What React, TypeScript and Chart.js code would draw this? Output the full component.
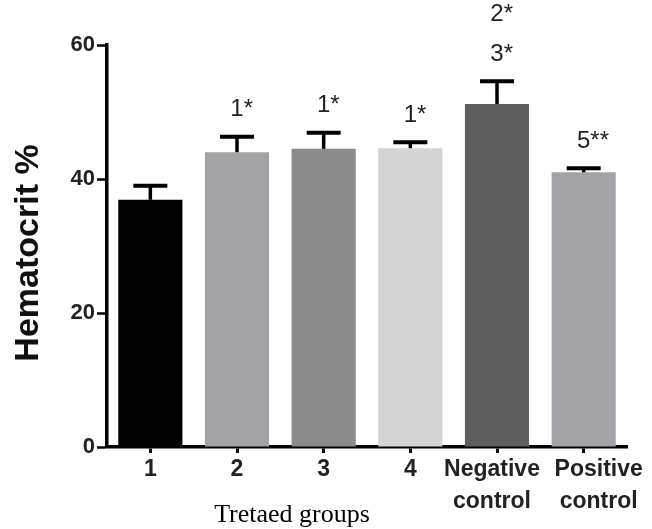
import React, { useEffect, useRef } from "react";
import { Chart, registerables } from "chart.js";

Chart.register(...registerables);

const categories: string[][] = [["1"], ["2"], ["3"], ["4"], ["Negative", "control"], ["Positive", "control"]];
const means = [36.9, 44.0, 44.5, 44.6, 51.2, 41.0];
const errors = [2.1, 2.3, 2.4, 0.9, 3.4, 0.6];
const annotations: string[][] = [[], ["1*"], ["1*"], ["1*"], ["2*", "3*"], ["5**"]];
const colors = ["#000000", "#a3a3a7", "#8b8b8b", "#d4d4d4", "#5f5f5f", "#a3a3a7"];
const labelShift = [0, 0, 0, 0, -5, 15];
const yTicks = [0, 20, 40, 60];
const yTitle = "Hematocrit %";
const xTitle = "Tretaed groups";

const SANS = "'Liberation Sans', Arial, sans-serif";
const SERIF = "'Liberation Serif', 'Times New Roman', serif";

const overlay = {
  id: "overlay",
  afterDatasetsDraw(chart: any) {
    const ctx = chart.ctx;
    const y = chart.scales.y;
    const meta = chart.getDatasetMeta(0);
    ctx.save();
    means.forEach((m, i) => {
      const bar = meta.data[i];
      const x = bar.x;
      const yBar = y.getPixelForValue(m);
      const yTop = y.getPixelForValue(m + errors[i]);
      ctx.strokeStyle = "#000";
      ctx.lineWidth = 3.5;
      ctx.beginPath();
      ctx.moveTo(x, yBar);
      ctx.lineTo(x, yTop);
      ctx.stroke();
      ctx.lineWidth = 4;
      ctx.beginPath();
      ctx.moveTo(x - 17, yTop);
      ctx.lineTo(x + 17, yTop);
      ctx.stroke();
      const lines = annotations[i];
      ctx.font = `24px ${SANS}`;
      ctx.fillStyle = "#222";
      ctx.textBaseline = "middle";
      for (let k = lines.length - 1; k >= 0; k--) {
        const off = 27 + (lines.length - 1 - k) * 40;
        const t = lines[k];
        const first = t[0];
        const rest = t.slice(1);
        const w = ctx.measureText(first).width;
        ctx.textAlign = "left";
        ctx.fillText(first, x - w / 2, yTop - off);
        ctx.fillText(rest, x + w / 2, yTop - off);
      }
    });
    ctx.restore();
  },
  afterDraw(chart: any) {
    const ctx = chart.ctx;
    const xs = chart.scales.x;
    ctx.save();
    ctx.fillStyle = "#222";
    ctx.font = `bold 23px ${SANS}`;
    ctx.textAlign = "center";
    ctx.textBaseline = "middle";
    categories.forEach((lab, i) => {
      const x = xs.getPixelForTick(i) + labelShift[i];
      lab.forEach((line, k) => {
        ctx.fillText(line, x, xs.top + 23 + k * 32);
      });
    });
    ctx.restore();

    ctx.save();
    ctx.fillStyle = "#111";
    ctx.font = `bold 34px ${SANS}`;
    ctx.textAlign = "center";
    ctx.textBaseline = "middle";
    ctx.translate(29, 253);
    ctx.rotate(-Math.PI / 2);
    ctx.fillText(yTitle, 0, 0);
    ctx.restore();
    ctx.save();
    ctx.fillStyle = "#000";
    ctx.font = `26px ${SERIF}`;
    ctx.textAlign = "center";
    ctx.textBaseline = "middle";
    ctx.fillText(xTitle, 292, 515);
    ctx.restore();
  },
};

export default function App() {
  const ref = useRef<HTMLCanvasElement | null>(null);
  useEffect(() => {
    document.body.style.margin = "0";
    const c = new Chart(ref.current as HTMLCanvasElement, {
      type: "bar",
      data: {
        labels: categories.map((l) => l.join(" ")),
        datasets: [
          {
            data: means,
            backgroundColor: colors,
            borderWidth: 0,
            barPercentage: 0.74,
            categoryPercentage: 1,
          },
        ],
      },
      options: {
        responsive: false,
        animation: false,
        devicePixelRatio: 1,
        layout: { padding: { top: 45, right: 25, left: 0, bottom: 0 } },
        plugins: { legend: { display: false }, tooltip: { enabled: false }, title: { display: false } },
        scales: {
          x: {
            afterFit: (s: any) => {
              s.height = 82;
            },
            grid: {
              drawOnChartArea: false,
              drawTicks: true,
              tickLength: 6,
              tickWidth: 3,
              tickColor: "#000",
              offset: false,
            },
            border: { display: true, color: "#000", width: 3.5 },
            ticks: {
              display: false,
              autoSkip: false,
            },
          },
          y: {
            min: 0,
            max: 60,
            afterFit: (s: any) => {
              s.width = 107;
            },
            afterBuildTicks: (s: any) => {
              s.ticks = yTicks.map((v) => ({ value: v }));
            },
            grid: {
              drawOnChartArea: false,
              drawTicks: true,
              tickLength: 10,
              tickWidth: 2.5,
              tickColor: "#000",
            },
            border: { display: true, color: "#000", width: 3.5 },
            ticks: {
              color: "#222",
              font: { family: SANS, size: 22, weight: "bold" },
              padding: 2,
            },
          },
        },
      },
      plugins: [overlay],
    });
    return () => c.destroy();
  }, []);
  return (
    <div style={{ position: "absolute", left: 0, top: 0, width: 652, height: 529 }}>
      <canvas ref={ref} width={652} height={529} style={{ width: 652, height: 529 }} />
    </div>
  );
}
